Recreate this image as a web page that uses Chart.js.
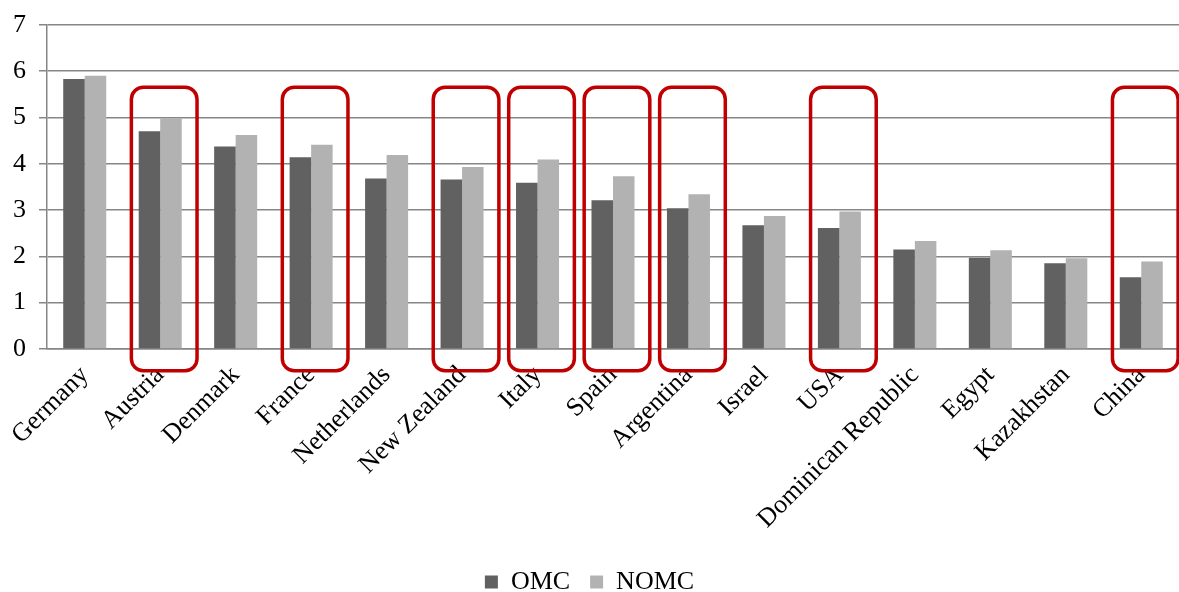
<!DOCTYPE html>
<html lang="en">
<head>
  <meta charset="UTF-8">
  <title>OMC vs NOMC</title>
  <script src="https://cdn.jsdelivr.net/npm/chart.js"></script>
  <style>
    html, body { margin: 0; padding: 0; background: #fff; }
    #wrap { width: 1179px; height: 592px; }
  </style>
</head>
<body>
  <div id="wrap"><canvas id="chart"></canvas></div>
  <script>
    const countries = ["Germany", "Austria", "Denmark", "France", "Netherlands", "New Zealand", "Italy",
      "Spain", "Argentina", "Israel", "USA", "Dominican Republic", "Egypt", "Kazakhstan", "China"];
    const omc  = [5.83, 4.70, 4.37, 4.14, 3.68, 3.66, 3.59, 3.21, 3.04, 2.67, 2.61, 2.15, 1.97, 1.85, 1.55];
    const nomc = [5.90, 4.98, 4.62, 4.41, 4.19, 3.93, 4.09, 3.73, 3.34, 2.87, 2.97, 2.33, 2.13, 1.96, 1.89];
    const yTicks = [0, 1, 2, 3, 4, 5, 6, 7];
    // categories highlighted with a red rounded frame
    const highlighted = ["Austria", "France", "New Zealand", "Italy", "Spain", "Argentina", "USA", "China"];

    const serif = "'Liberation Serif', 'Times New Roman', serif";

    // red frames drawn through the scales
    const framePlugin = {
      id: "frames",
      afterDatasetsDraw(chart) {
        const x = chart.scales.x, y = chart.scales.y;
        const ctx = chart.ctx;
        const half = (x.getPixelForValue(1) - x.getPixelForValue(0)) * 0.435;
        const top = y.getPixelForValue(5.65);
        const bottom = y.getPixelForValue(-0.47);
        ctx.save();
        ctx.strokeStyle = "#c00000";
        ctx.lineWidth = 3.5;
        highlighted.forEach(name => {
          const cx = x.getPixelForValue(countries.indexOf(name)) + 4; // frames sit a bit right of centre
          ctx.beginPath();
          ctx.roundRect(cx - half, top, half * 2, bottom - top, 12);
          ctx.stroke();
        });
        ctx.restore();
      }
    };

    new Chart(document.getElementById("chart"), {
      type: "bar",
      data: {
        labels: countries,
        datasets: [
          { label: "OMC", data: omc, backgroundColor: "#616161" },
          { label: "NOMC", data: nomc, backgroundColor: "#b2b2b2" }
        ]
      },
      options: {
        responsive: true,
        maintainAspectRatio: false,
        animation: false,
        datasets: { bar: { categoryPercentage: 0.57, barPercentage: 1 } },
        layout: { padding: { top: 0, right: 0, left: 0, bottom: -13 } },
        plugins: {
          legend: {
            position: "bottom",
            labels: {
              font: { family: serif, size: 26 },
              color: "#000",
              boxWidth: 13,
              boxHeight: 13,
              padding: 20
            }
          },
          tooltip: { enabled: false }
        },
        scales: {
          x: {
            grid: { display: false },
            border: { color: "#868686", width: 1.5 },
            ticks: {
              font: { family: serif, size: 26 },
              color: "#000",
              maxRotation: 45,
              minRotation: 45,
              autoSkip: false
            },
            afterFit(scale) { scale.height = 200; }
          },
          y: {
            min: 0,
            max: 7,
            afterBuildTicks(scale) { scale.ticks = yTicks.map(v => ({ value: v })); },
            grid: { color: "#868686", lineWidth: 1.5, tickLength: 8 },
            border: { color: "#868686", width: 1.5 },
            ticks: {
              font: { family: serif, size: 26, lineHeight: 0.9 },
              color: "#000",
              padding: 13
            }
          }
        }
      },
      plugins: [framePlugin]
    });
  </script>
</body>
</html>
